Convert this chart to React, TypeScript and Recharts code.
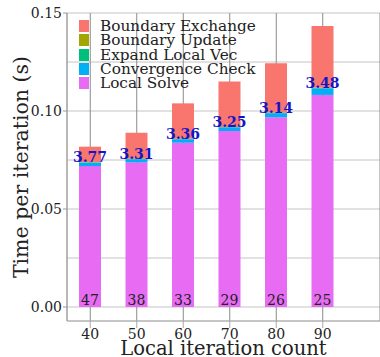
import {
  Bar,
  BarChart,
  CartesianGrid,
  LabelList,
  Legend,
  XAxis,
  YAxis,
} from "recharts";

const FONT = "'DejaVu Serif', serif";

const iterations = ["40", "50", "60", "70", "80", "90"];
const localSolve = [0.0719, 0.0738, 0.0838, 0.0898, 0.0968, 0.1082];
const convergenceCheck = [0.0018, 0.0016, 0.0018, 0.0019, 0.0021, 0.0034];
const expandLocalVec = [0.0001, 0.0001, 0.0001, 0.0001, 0.0001, 0.0001];
const boundaryUpdate = [0.0001, 0.0001, 0.0001, 0.0001, 0.0001, 0.0001];
const boundaryExchange = [0.0079, 0.0133, 0.0181, 0.0231, 0.0252, 0.0316];
const convergencePct = ["3.77", "3.31", "3.36", "3.25", "3.14", "3.48"];
const outerIters = ["47", "38", "33", "29", "26", "25"];

const yTicks = [0, 0.025, 0.05, 0.075, 0.1, 0.125, 0.15];
const yLabelTicks = [0, 0.05, 0.1, 0.15];

const data = iterations.map((it, i) => ({
  it,
  local: localSolve[i],
  conv: convergenceCheck[i],
  expand: expandLocalVec[i],
  update: boundaryUpdate[i],
  exchange: boundaryExchange[i],
  pct: convergencePct[i],
  outer: outerIters[i],
}));

const series = [
  { key: "local", name: "Local Solve", color: "#E76BF3" },
  { key: "conv", name: "Convergence Check", color: "#00B0F6" },
  { key: "expand", name: "Expand Local Vec", color: "#00BF7D" },
  { key: "update", name: "Boundary Update", color: "#A3A500" },
  { key: "exchange", name: "Boundary Exchange", color: "#F8766D" },
];

const YTick = (props: any) => {
  const { x, y, payload } = props;
  const major = yLabelTicks.some((v) => Math.abs(v - payload.value) < 1e-6);
  if (!major) return null;
  return (
    <g>
      <line x1={x + 1} x2={x + 5} y1={y} y2={y} stroke="#999" />
      <text
        x={x}
        y={y}
        dy="0.36em"
        textAnchor="end"
        fontFamily={FONT}
        fontSize={14}
        fill="#222"
      >
        {payload.value.toFixed(2)}
      </text>
    </g>
  );
};

const renderLegend = () => (
  <div style={{ fontFamily: FONT, fontSize: 15.3, color: "#222" }}>
    {[...series].reverse().map((s) => (
      <div
        key={s.key}
        style={{ display: "flex", alignItems: "center", height: 14.3, lineHeight: "14px" }}
      >
        <span
          style={{
            display: "inline-block",
            width: 10,
            height: 12,
            background: s.color,
            marginRight: 11,
          }}
        />
        <span style={{ whiteSpace: "nowrap" }}>{s.name}</span>
      </div>
    ))}
  </div>
);

const pctLabel = (props: any) => {
  const { x, y, width, index } = props;
  return (
    <text
      x={x + width / 2}
      y={y - 0.5}
      textAnchor="middle"
      fontFamily={FONT}
      fontWeight="bold"
      fontSize={14}
      fill="#1414C8"
    >
      {convergencePct[index]}
    </text>
  );
};

const outerLabel = (props: any) => {
  const { x, y, width, height, index } = props;
  return (
    <text
      x={x + width / 2}
      y={y + height - 2}
      textAnchor="middle"
      fontFamily={FONT}
      fontSize={14}
      fill="#222"
    >
      {outerIters[index]}
    </text>
  );
};

export default function App() {
  return (
    <div style={{ position: "absolute", left: 0, top: 0 }}>
      <BarChart
        width={380}
        height={357}
        data={data}
        margin={{ top: 13, right: 0, left: 0, bottom: 0 }}
        barSize={22}
      >
        <CartesianGrid vertical={false} stroke="#c4c4c4" />
        <CartesianGrid horizontal={false} stroke="#8a8a8a" />
        <XAxis
          dataKey="it"
          height={36}
          padding={{ left: 0, right: 34 }}
          tickSize={7}
          tickMargin={1}
          stroke="#aaa"
          tick={{ fontFamily: FONT, fontSize: 14, fill: "#222" }}
          label={{
            value: "Local iteration count",
            position: "insideBottom",
            offset: 2,
            style: { fontFamily: FONT, fontSize: 19.5, fill: "#222" },
          }}
        />
        <YAxis
          width={67}
          type="number"
          domain={[-0.00714, 0.15]}
          ticks={yTicks}
          interval={0}
          tickSize={4}
          tickMargin={1}
          tickLine={false}
          stroke="#aaa"
          tick={<YTick />}
          label={{
            value: "Time per iteration (s)",
            angle: -90,
            position: "insideLeft",
            offset: 21,
            style: { fontFamily: FONT, fontSize: 20.5, fill: "#222", textAnchor: "middle" },
          }}
        />
        <Legend
          layout="vertical"
          align="center"
          verticalAlign="middle"
          content={renderLegend}
          wrapperStyle={{ left: 79, top: 19, width: "auto" }}
        />
        {series.map((s) => (
          <Bar
            key={s.key}
            dataKey={s.key}
            name={s.name}
            stackId="a"
            fill={s.color}
            isAnimationActive={false}
          >
            {s.key === "conv" && <LabelList dataKey="pct" content={pctLabel} />}
            {s.key === "local" && <LabelList dataKey="outer" content={outerLabel} />}
          </Bar>
        ))}
      </BarChart>
    </div>
  );
}
